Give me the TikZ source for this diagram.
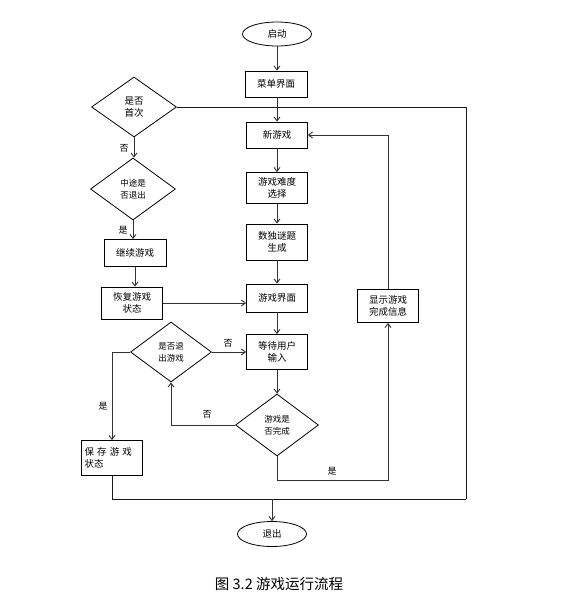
\documentclass[tikz,border=0pt]{standalone}
\usepackage{fontspec}
\setmainfont{Noto Sans CJK SC}
\usetikzlibrary{arrows.meta, shapes.geometric}

\begin{document}
\begin{tikzpicture}[>={Straight Barb[length=4pt, width=6pt]}, x=1pt, y=-1pt,
  box/.style={draw, line width=0.8pt, align=center, inner sep=1pt,
              font=\fontsize{9.5}{12.5}\selectfont},
  decision/.style={draw, diamond, line width=0.8pt, inner sep=0pt, align=center,
              font=\fontsize{8.5}{12}\selectfont},
  term/.style={draw, ellipse, line width=0.8pt, minimum width=69, minimum height=24,
              font=\fontsize{9.5}{12}\selectfont},
  lbl/.style={font=\fontsize{9}{10}\selectfont},
  arr/.style={->, line width=0.9pt, black!80},
  ln/.style={line width=0.9pt, black!90}]
  \useasboundingbox (0,0) rectangle (568,608);

  % Main column
  \node[term] (start) at (277,34) {启动};
  \node[box, minimum width=62, minimum height=26] (menu) at (276,84) {菜单界面};
  \node[box, minimum width=61, minimum height=26] (newgame) at (277,135) {新游戏};
  \node[box, minimum width=61, minimum height=31] (level) at (277,188) {游戏难度\\选择};
  \node[box, minimum width=61, minimum height=36] (puzzle) at (277,242) {数独谜题\\生成};
  \node[box, minimum width=61, minimum height=28] (gameui) at (277,298) {游戏界面};
  \node[box, minimum width=61, minimum height=35] (wait) at (277,352) {等待用户\\输入};
  \node[decision, minimum width=83, minimum height=62] (done) at (277,425) {游戏是\\否完成};

  % Left column
  \node[decision, minimum width=85, minimum height=60,
        font=\fontsize{9.5}{12.5}\selectfont] (first) at (134,107) {是否\\首次};
  \node[decision, minimum width=85, minimum height=62] (midquit) at (133,189) {中途是\\否退出};
  \node[box, minimum width=62, minimum height=27] (cont) at (135,253) {继续游戏};
  \node[box, minimum width=61, minimum height=32] (restore) at (132,303) {恢复游戏\\状态};
  \node[decision, minimum width=81, minimum height=60] (quit) at (171,352) {是否退\\出游戏};
  \node[box, minimum width=61, minimum height=35, text width=55, align=left]
        (save) at (112,458) {保 存 游 戏\\状态};

  % Right column and end
  \node[box, minimum width=61, minimum height=33] (info) at (388,306) {显示游戏\\完成信息};
  \node[term, minimum height=25] (exit) at (272,534) {退出};
  \coordinate (br) at (466,499);

  % Connectors
  \draw[arr] (start.south) -- (start.south |- menu.north);
  \draw[arr] (newgame.north |- menu.south) -- (newgame.north);
  \draw[arr] (newgame) -- (level);
  \draw[arr] (level) -- (puzzle);
  \draw[arr] (puzzle) -- (gameui);
  \draw[arr] (gameui) -- (wait);
  \draw[arr] (wait) -- (done);
  \draw[arr] (first.south) -- (first.south |- midquit.north);
  \draw[arr] (midquit.south) -- (midquit.south |- cont.north);
  \draw[arr] (cont.south) -- (cont.south |- restore.north);
  \draw[arr] (restore.east) -- (restore.east -| gameui.west);
  \draw[arr] (quit) -- (wait);
  \draw[arr] (quit.west) -| (save.north);
  \draw[arr] (done.west) -| (quit.south);
  \draw[arr] (done.south) -- ++(0,24) -| (info.south);
  \draw[arr] (info.north) |- (newgame.east);
  \draw[ln] (first.east) -| (br);
  \draw[ln] (save.south) |- (br);
  \draw[arr] (exit.north |- br) -- (exit.north);

  % Labels
  \node[lbl] (l1) at (124,148) {否};
  \node[lbl] (l2) at (123,230) {是};
  \node[lbl] (l3) at (228,343) {否};
  \node[lbl] (l4) at (103,406) {是};
  \node[lbl] (l5) at (207,414) {否};
  \node[lbl] (l6) at (332,471) {是};

  % Caption
  \node[font=\fontsize{14.5}{16}\selectfont] (cap) at (279,584) {图 3.2 游戏运行流程};
\end{tikzpicture}
\end{document}
